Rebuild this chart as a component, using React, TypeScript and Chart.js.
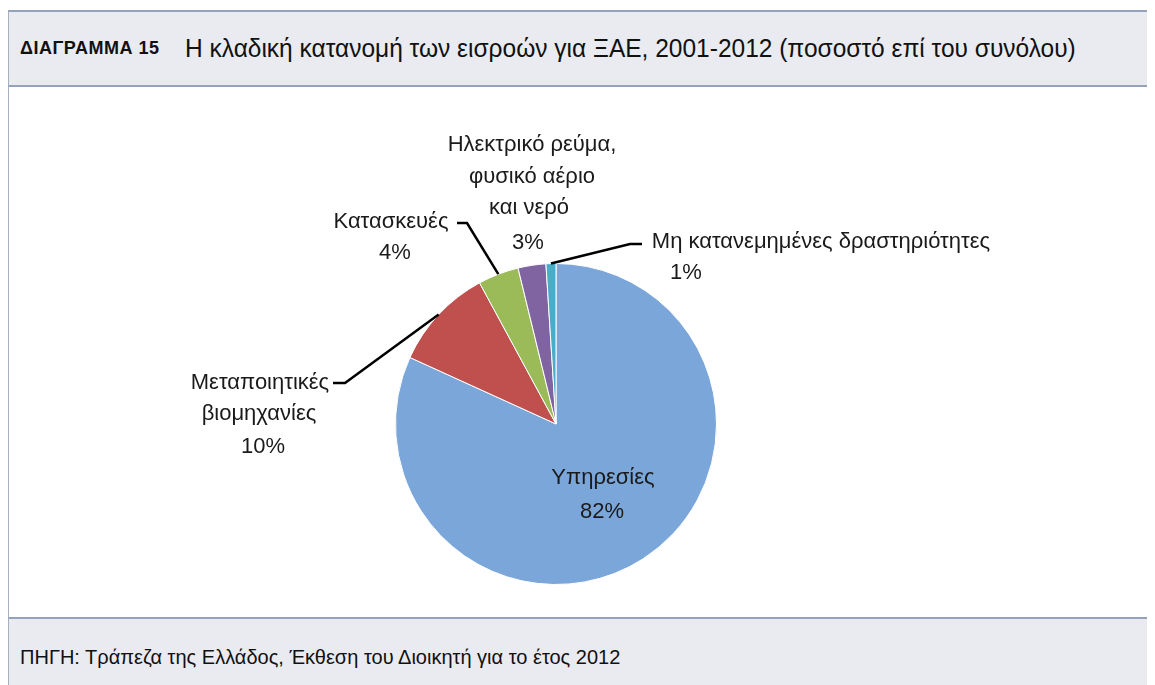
import React, { useEffect, useRef } from "react";
import { Chart, registerables } from "chart.js";

Chart.register(...registerables);

const categories = [
  "Υπηρεσίες",
  "Μεταποιητικές βιομηχανίες",
  "Κατασκευές",
  "Ηλεκτρικό ρεύμα, φυσικό αέριο και νερό",
  "Μη κατανεμημένες δραστηριότητες",
];
const shares = [81.8, 10.3, 4.1, 2.8, 1.0];
const sliceColors = ["#7aa6da", "#c0504d", "#9bbb59", "#8064a2", "#4bacc6"];
const labelLines = [
  ["Υπηρεσίες"],
  ["Μεταποιητικές", "βιομηχανίες"],
  ["Κατασκευές"],
  ["Ηλεκτρικό ρεύμα,", "φυσικό αέριο", "και νερό"],
  ["Μη κατανεμημένες δραστηριότητες"],
];

const TITLE_TAG = "ΔΙΑΓΡΑΜΜΑ 15";
const TITLE = "Η κλαδική κατανομή των εισροών για ΞΑΕ, 2001-2012 (ποσοστό επί του συνόλου)";
const SOURCE = "ΠΗΓΗ: Τράπεζα της Ελλάδος, Έκθεση του Διοικητή για το έτος 2012";

// label layout: offsets from pie centre (px)
const LABEL_LAYOUT = [
  { xs: [47, 46], ys: [54, 88], leader: null },
  { xs: [-296, -297, -293], ys: [-41, -10, 23], leader: [-223, -41, -211, -41] },
  { xs: [-165, -161], ys: [-202, -171], leader: [-99, -201, -89, -201] },
  { xs: [-24, -24, -27, -28], ys: [-279, -247, -216, -181], leader: null },
  { xs: [265, 130], ys: [-182, -151], leader: [86, -180, 74, -180] },
];

const FONT = "'Liberation Sans', Arial, sans-serif";
const LABEL_SX = 1.0;

const labelPlugin = {
  id: "pieLabels",
  afterDatasetsDraw(chart: any) {
    const ctx = chart.ctx;
    const meta = chart.getDatasetMeta(0);
    const first = meta.data[0];
    const cx = first.x;
    const cy = first.y;
    ctx.save();
    ctx.font = `22px ${FONT}`;
    ctx.fillStyle = "#1a1a1a";
    ctx.textAlign = "center";
    ctx.textBaseline = "middle";
    ctx.strokeStyle = "#000000";
    ctx.lineWidth = 2.5;
    meta.data.forEach((arc: any, i: number) => {
      const p = arc.getProps(["startAngle", "endAngle", "outerRadius"], true);
      const mid = (p.startAngle + p.endAngle) / 2;
      const L = LABEL_LAYOUT[i];
      if (L.leader) {
        const px = cx + Math.cos(mid) * p.outerRadius;
        const py = cy + Math.sin(mid) * p.outerRadius;
        ctx.beginPath();
        ctx.moveTo(cx + L.leader[0], cy + L.leader[1]);
        ctx.lineTo(cx + L.leader[2], cy + L.leader[3]);
        ctx.lineTo(px, py);
        ctx.stroke();
      }
      const lines = [...labelLines[i], `${Math.round(shares[i])}%`];
      lines.forEach((t, k) => {
        ctx.save();
        ctx.translate(cx + L.xs[k], cy + L.ys[k]);
        ctx.scale(LABEL_SX, 1);
        ctx.fillText(t, 0, 0);
        ctx.restore();
      });
    });
    ctx.restore();
  },
};

export default function App() {
  const canvasRef = useRef<HTMLCanvasElement | null>(null);

  useEffect(() => {
    if (!canvasRef.current) return;
    const chart = new Chart(canvasRef.current, {
      type: "pie",
      data: {
        labels: categories,
        datasets: [
          {
            data: shares,
            backgroundColor: sliceColors,
            borderColor: "#ffffff",
            borderWidth: 1,
          },
        ],
      },
      options: {
        animation: false,
        responsive: false,
        maintainAspectRatio: false,
        layout: { padding: { top: 176, bottom: 32, left: 386, right: 438 } },
        plugins: {
          legend: { display: false },
          tooltip: { enabled: false },
        },
      },
      plugins: [labelPlugin],
    });
    return () => chart.destroy();
  }, []);

  const band: React.CSSProperties = {
    background: "#e9ebf0",
    borderLeft: "1px solid #a7b0bf",
    boxSizing: "border-box",
    display: "flex",
    alignItems: "center",
    paddingLeft: 11,
    fontFamily: FONT,
    color: "#111",
    whiteSpace: "nowrap",
  };

  return (
    <div style={{ marginTop: 2, width: 1147, height: 675, position: "relative", overflow: "hidden" }}>
      <div
        style={{
          ...band,
          height: 77,
          borderTop: "2px solid #94a3bb",
          borderBottom: "2px solid #94a3bb",
        }}
      >
        <span
          style={{
            fontWeight: "bold",
            fontSize: 18,
            letterSpacing: 0.5,
            display: "inline-block",
            width: 165,
          }}
        >
          {TITLE_TAG}
        </span>
        <span
          style={{
            fontSize: 25,
            display: "inline-block",
            transform: "scaleX(0.98)",
            transformOrigin: "left center",
          }}
        >
          {TITLE}
        </span>
      </div>
      <div style={{ borderLeft: "1px solid #a7b0bf", height: 530, background: "#fff" }}>
        <canvas ref={canvasRef} width={1146} height={530} style={{ display: "block" }} />
      </div>
      <div style={{ ...band, height: 68, borderTop: "2px solid #94a3bb", alignItems: "flex-start", paddingTop: 27 }}>
        <span style={{ fontSize: 20, display: "inline-block" }}>{SOURCE}</span>
      </div>
    </div>
  );
}
